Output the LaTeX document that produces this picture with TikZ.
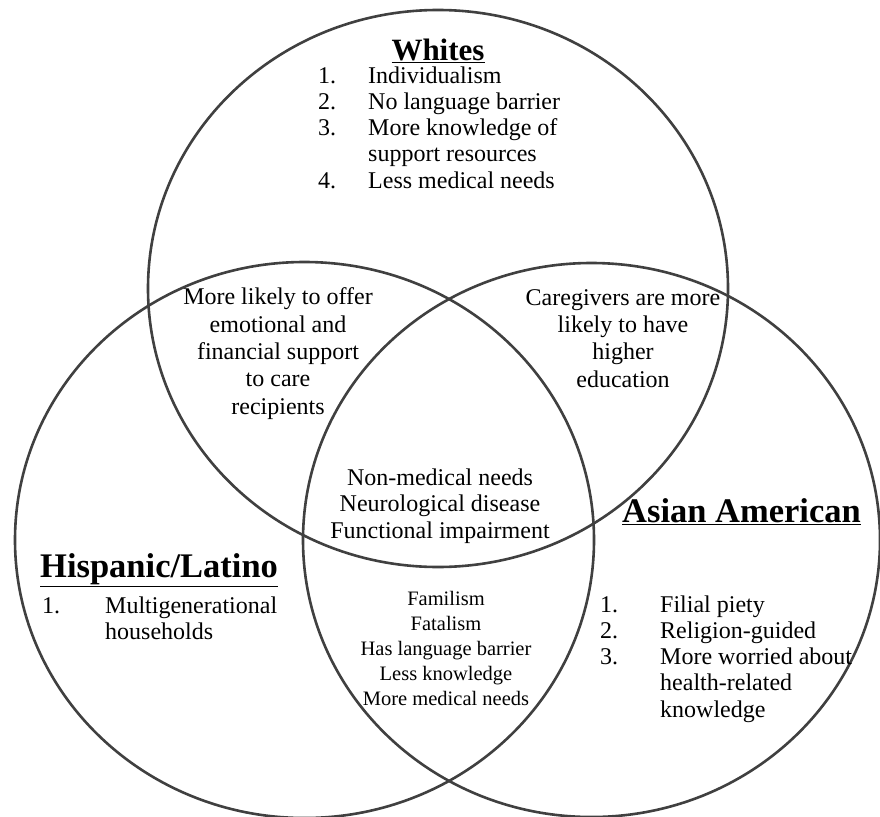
\documentclass[tikz,border=0pt]{standalone}
\usepackage{fontspec}
\setmainfont{Liberation Serif}
\begin{document}
\begin{tikzpicture}[x=1pt,y=-1pt,
  ring/.style={draw=black!75, line width=2.6pt},
  body/.style={inner sep=0pt, font={\fontsize{24}{27.3}\selectfont}, align=center},
  small/.style={inner sep=0pt, font={\fontsize{20.5}{25}\selectfont}, align=center},
  listtxt/.style={inner sep=0pt, font={\fontsize{24}{26.3}\selectfont}, align=left, anchor=base west},
  title/.style={inner sep=0pt, font={\fontsize{34.5}{36}\selectfont\bfseries}, anchor=base west}]
\useasboundingbox (0,0) rectangle (880,816);
\fill[white] (0,0) rectangle (880,816);
\clip (0,0) rectangle (880,816);
% circles
\coordinate (cw) at (438,288.5);
\coordinate (ch) at (304.5,540);
\coordinate (ca) at (591.5,540);
\draw[ring] (cw) ellipse [x radius=290, y radius=278.5];
\draw[ring] (ch) ellipse [x radius=289.5, y radius=278];
\draw[ring] (ca) ellipse [x radius=288.5, y radius=277];
% titles
\node[title, anchor=base, font={\fontsize{31}{34}\selectfont\bfseries}] (tw) at (438,60) {\underline{Whites}};
\node[title] (th) at (40,577) {\underline{Hispanic/Latino}};
\node[title] (ta) at (622,522) {\underline{Asian American}};
% Whites list (anchor = baseline of last line)
\node[listtxt] (lw) at (318,188.2) {\makebox[50pt][l]{1.}Individualism\\
\makebox[50pt][l]{2.}No language barrier\\
\makebox[50pt][l]{3.}More knowledge of\\
\hspace*{50pt}support resources\\
\makebox[50pt][l]{4.}Less medical needs};
% Hispanic list
\node[listtxt] (lh) at (42,639.3) {\makebox[63pt][l]{1.}Multigenerational\\
\hspace*{63pt}households};
% Asian list
\node[listtxt] (la) at (600,717.2) {\makebox[60pt][l]{1.}Filial piety\\
\makebox[60pt][l]{2.}Religion-guided\\
\makebox[60pt][l]{3.}More worried about\\
\hspace*{60pt}health-related\\
\hspace*{60pt}knowledge};
% overlaps
\node[body, anchor=base] (owh) at (278,414) {More likely to offer\\emotional and\\financial support\\to care\\recipients};
\node[body, anchor=base] (owa) at (623,387) {Caregivers are more\\likely to have\\higher\\education};
\node[body, anchor=base, font={\fontsize{24}{26.5}\selectfont}] (oall) at (440,538) {Non-medical needs\\Neurological disease\\Functional impairment};
\node[small, anchor=base] (oha) at (446,705) {Familism\\Fatalism\\Has language barrier\\Less knowledge\\More medical needs};
\end{tikzpicture}
\end{document}
